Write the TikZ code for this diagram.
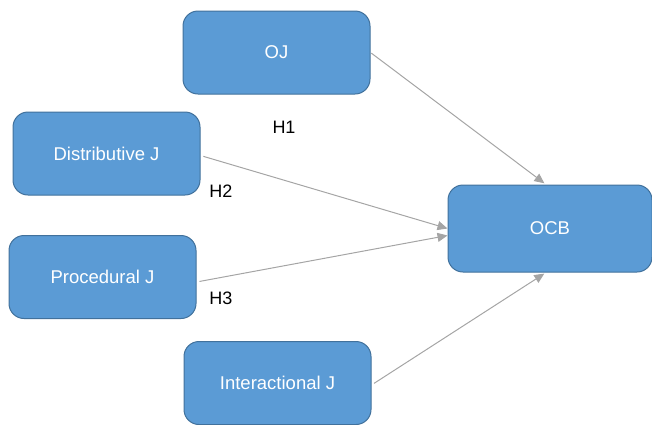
\documentclass[tikz,border=0pt]{standalone}
\usepackage{fontspec}
\setmainfont{Liberation Sans}
\usepackage{xcolor}
\usetikzlibrary{positioning,arrows.meta,calc}
\definecolor{boxfill}{HTML}{5B9BD5}
\definecolor{boxline}{HTML}{41719C}
\definecolor{arrgray}{HTML}{A5A5A5}

\begin{document}
\begin{tikzpicture}[
  x=1pt, y=-1pt,
  box/.style={draw=boxline, line width=1pt, fill=boxfill, rounded corners=15pt, minimum width=187pt, minimum height=83pt, align=center, text=white, font=\fontsize{18.5}{22}\selectfont},
  hyp/.style={font=\fontsize{18}{22}\selectfont, text=black},
  arr/.style={-{Triangle[length=10pt, width=9pt]}, line width=1pt, color=arrgray}
]
  \useasboundingbox (0,0) rectangle (652,424);

  % Constructs
  \node[box] (oj) at (276.5,52.5) {OJ};
  \node[box] (dj) at (106.5,153.5) {Distributive J};
  \node[box] (pj) at (102.5,277) {Procedural J};
  \node[box] (ij) at (277.5,383) {Interactional J};
  \node[box, minimum width=204pt, minimum height=87pt] (ocb) at (550,228.5) {OCB};

  % Arrows
  \draw[arr, shorten <=1pt, shorten >=2pt] (oj.east) -- ([xshift=-4pt]ocb.north);
  \draw[arr, shorten <=3pt] ([yshift=-2pt]dj.east) -- (ocb.west);
  \draw[arr, shorten <=3pt] ([yshift=-5pt]pj.east) -- ([yshift=-7pt]ocb.west);
  \draw[arr, shorten <=3pt, shorten >=2pt] ([yshift=-2pt]ij.east) -- ([xshift=-4pt]ocb.south);

  % Hypothesis labels
  \node[hyp] (h1) at (284,127) {H1};
  \node[hyp] (h2) at (221,191) {H2};
  \node[hyp] (h3) at (221,298) {H3};
\end{tikzpicture}
\end{document}
